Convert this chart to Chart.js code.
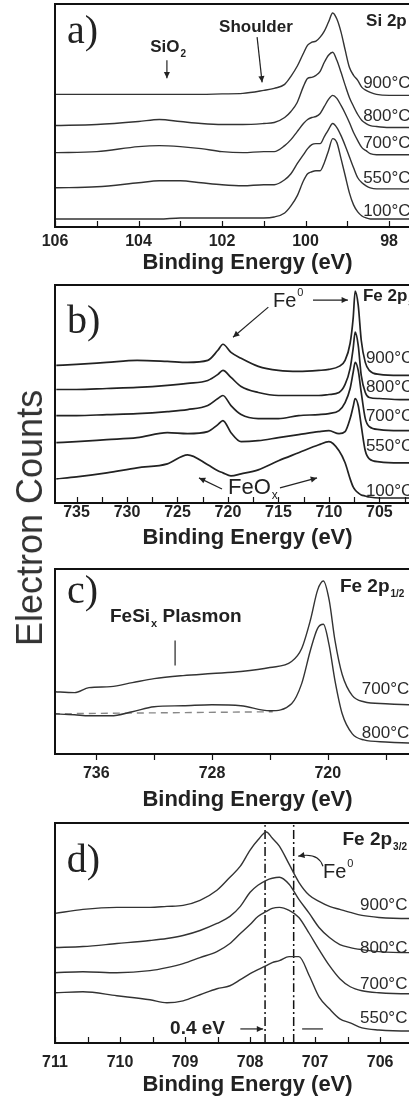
<!DOCTYPE html>
<html>
<head>
<meta charset="utf-8">
<script src="https://cdn.jsdelivr.net/npm/chart.js@4/dist/chart.umd.min.js"></script>
<style>
  html, body { margin: 0; padding: 0; background: #fff; width: 409px; height: 1097px; overflow: hidden; position: relative; }
  .panel { position: absolute; left: 0; width: 450px; }
  #ylab { position: absolute; left: 30px; top: 518px; transform: translate(-50%, -50%) rotate(-90deg);
          white-space: nowrap; font: 36px 'Liberation Sans', Arial, sans-serif; color: #333; }
</style>
</head>
<body>
<div class="panel" style="top:0px;height:274px"><canvas id="ca"></canvas></div>
<div class="panel" style="top:276px;height:273px"><canvas id="cb"></canvas></div>
<div class="panel" style="top:552px;height:259px"><canvas id="cc"></canvas></div>
<div class="panel" style="top:812px;height:284px"><canvas id="cd"></canvas></div>
<div id="ylab">Electron Counts</div>
<script>
const SANS = "'Liberation Sans', Arial, sans-serif";
const SERIF = "'Liberation Serif', 'Times New Roman', serif";

// a) Si 2p  (energy in eV, counts in arbitrary units)
const siEnergy = [106, 105, 104, 103.5, 103, 102.5, 102, 101.5, 101, 100.75, 100.5, 100.35, 100.2, 100.05, 99.95, 99.85, 99.75, 99.65, 99.55, 99.45, 99.35, 99.25, 99.15, 99.05, 98.95, 98.85, 98.75, 98.65, 98.55, 98.45, 98.3, 98.0, 97.5, 96.8];
const si900 = [132,132,132,132,132,132,132.5,133,136,138,142,150,160,173,181,184,185,189,195,204,213,207,194,176,159,151,146,139,136,134,132,131,131,131];
const si800 = [101,102,105,107,105,103,102,102,103,104,109,115,124,140,148,149,151,155,164,171,174,166,154,141,129,120,112,106,103,101,100,99,99,99];
const si700 = [74,75,80,81,80,78,75,74,75,75,81,87,95,103,107,109,110,113,120,127,131,128,121,113,104,94,86,79,76,73,72,72,72,72];
const si550 = [39,40,44,46,46,44,42,41,42,42,47,53,63,72,78,82,83,83,90,97,103,99,91,81,70,59,49,44,41,39,38,38,38,38];
const si100 = [8,8,8,8,9,9,9,9,9,10,14,21,31,46,53,55,56,56,64,76,88,84,68,51,34,22,15,11,9,8,8,8,8,8];
const siTemps = ['900°C', '800°C', '700°C', '550°C', '100°C'];

// b) Fe 2p wide scan
const feEnergy = [737, 735, 732, 729, 726, 724, 722, 721, 720.5, 719.7, 718.7, 717, 715, 713, 711, 710, 709, 708.4, 707.9, 707.6, 707.4, 707.1, 706.8, 706.4, 706, 705, 703, 701, 699];
const fe900 = [137,138,140,142,141,140,142,152,158,150,144,136,132,131,132,133,136,142,159,184,211,197,162,140,132,128,127,127,127];
const fe800 = [113,113,114,115,117,119,122,128,132,125,116,110,107,107,107,108,110,118,134,154,170,157,127,110,105,104,103,103,103];
const fe700 = [87,87,88,89,91,93,97,104,107,97,88,84,84,87,88,89,92,100,114,130,140,132,110,84,76,73,72,72,72];
const fe550 = [60,61,63,65,70,69,71,78,82,70,61,62,65,68,71,72,69,71,84,96,104,97,77,52,44,41,40,40,40];
const fe100 = [24,26,30,35,39,48,38,32,30,27,29,33,42,50,58,61,52,40,24,16,13,10,8,7,6,5,5,5,5];
const feTemps = ['900°C', '800°C', '700°C', '550°C', '100°C'];

// c) Fe 2p1/2
const halfEnergy = [739, 737.5, 736.5, 735, 733.5, 732, 730, 728, 726, 724, 722.5, 721.8, 721.2, 720.7, 720.3, 719.9, 719.5, 719, 718.3, 717.5, 716, 714, 712];
const half700 = [62,61,66,67,71,75,78,80,82,86,92,105,133,163,172,153,113,79,58,52,50,49,49];
const half800 = [40,39,38,38,42,47,48,49,48,43,50,70,103,125,129,108,73,40,20,14,12,11,11];
const bgEnergy = [739, 723.8];
const bgCounts = [40, 42];
const halfTemps = ['700°C', '800°C'];

// d) Fe 2p3/2
const p32Energy = [711, 710.57, 710.05, 709.54, 709.28, 709.03, 708.77, 708.51, 708.31, 708.15, 708.0, 707.88, 707.75, 707.66, 707.55, 707.4, 707.25, 707.09, 706.94, 706.78, 706.62, 706.46, 706.28, 706.02, 705.55, 705.08];
const p32_900 = [129,133,135,135,136,137,142,152,165,176,192,202,210,204,196,178,160,147,141,136,133,130,127,125,124,124];
const p32_800 = [95,96,99,102,104,107,112,119,126,136,150,157,162,164,165,158,143,129,115,105,98,95,93,91,90,90];
const p32_700 = [70,71,70,72,75,79,85,91,99,109,118,126,131,134,135,132,125,109,93,77,64,56,52,50,49,49];
const p32_550 = [50,51,47,43,40,42,48,54,57,63,69,73,77,80,82,86,86,67,46,34,24,20,15,13,12,12];
const refEnergy = [707.77, 707.33];
const p32Temps = ['900°C', '800°C', '700°C', '550°C'];

function xy(xs, ys) { return xs.map((v, i) => ({x: v, y: ys[i]})); }

function arrowHead(ctx, x1, y1, x2, y2, size) {
  const ang = Math.atan2(y2 - y1, x2 - x1);
  ctx.beginPath();
  ctx.moveTo(x2, y2);
  ctx.lineTo(x2 - size * Math.cos(ang - 0.45), y2 - size * Math.sin(ang - 0.45));
  ctx.lineTo(x2 - size * Math.cos(ang + 0.45), y2 - size * Math.sin(ang + 0.45));
  ctx.closePath();
  ctx.fill();
}

const decor = {
  id: 'decor',
  afterDatasetsDraw(chart, args, o) {
    const {ctx, chartArea: a, scales: {x, y}} = chart;
    ctx.save();
    ctx.strokeStyle = '#111';
    ctx.lineWidth = 1.2;
    const start = Math.ceil(x.min / o.minor - 1e-6) * o.minor;
    for (let v = start; v <= x.max + 1e-6; v += o.minor) {
      const px = Math.round(x.getPixelForValue(v)) + 0.5;
      ctx.beginPath();
      ctx.moveTo(px, a.bottom);
      ctx.lineTo(px, a.bottom + o.tickDir * 6);
      ctx.stroke();
    }
    ctx.lineWidth = 2;
    ctx.strokeRect(a.left, a.top, a.right - a.left, a.bottom - a.top);

    ctx.fillStyle = '#222';
    ctx.strokeStyle = '#222';
    ctx.lineWidth = 1.2;
    ctx.textBaseline = 'alphabetic';
    o.notes.forEach(n => {
      const px = x.getPixelForValue(n.x), py = y.getPixelForValue(n.y);
      if (n.t === 'text') {
        ctx.fillStyle = n.color || '#222';
        ctx.font = n.font;
        ctx.fillText(n.s, px, py);
        let w = ctx.measureText(n.s).width;
        if (n.sub || n.sup) {
          const s = n.sub || n.sup;
          ctx.font = n.small;
          ctx.fillText(s, px + w + 1, n.sub ? py + 5 : py - 11);
          w += ctx.measureText(s).width + 1;
        }
        if (n.after) {
          ctx.font = n.font;
          ctx.fillText(n.after, px + w, py);
        }
      } else {
        const x2 = x.getPixelForValue(n.x2), y2 = y.getPixelForValue(n.y2);
        ctx.beginPath();
        ctx.moveTo(px, py);
        if (n.t === 'curve') {
          const cx = x.getPixelForValue(n.cx), cy = y.getPixelForValue(n.cy);
          ctx.quadraticCurveTo(cx, cy, x2, y2);
          ctx.stroke();
          arrowHead(ctx, cx, cy, px, py, 7);
        } else {
          ctx.lineTo(x2, y2);
          ctx.stroke();
          if (n.t === 'arrow') arrowHead(ctx, px, py, x2, y2, 7);
        }
      }
    });
    ctx.restore();
  }
};

function temps(labels, ex, ys) {
  return labels.map((s, i) => ({t: 'text', x: ex, y: ys[i], s: s, font: '17px ' + SANS, color: '#2a2a2a'}));
}

function panel(id, p) {
  const sets = p.series.map(s => ({
    data: xy(s.x, s.y),
    borderColor: s.color || '#333',
    borderWidth: s.width || 1.4,
    borderDash: s.dash || [],
    pointRadius: 0,
    cubicInterpolationMode: 'monotone',
    fill: false
  }));
  new Chart(document.getElementById(id), {
    type: 'line',
    data: {datasets: sets},
    options: {
      responsive: true,
      maintainAspectRatio: false,
      animation: false,
      events: [],
      layout: {padding: {left: 55, right: 10, top: p.padTop, bottom: 0}},
      plugins: {legend: {display: false}, tooltip: {enabled: false},
        decor: {minor: p.minor, tickDir: p.tickDir, notes: p.notes}},
      scales: {
        x: {
          type: 'linear', reverse: true, min: p.min, max: p.max,
          border: {display: false},
          grid: {display: false, drawTicks: false},
          ticks: {stepSize: p.step, includeBounds: false, autoSkip: false, maxRotation: 0,
                  padding: p.tickPad, color: '#222',
                  font: {family: SANS, size: 16, weight: 'bold', lineHeight: 1}},
          title: {display: true, text: 'Binding Energy (eV)', color: '#222', padding: 0,
                  font: {family: SANS, size: 22, weight: 'bold', lineHeight: 1}},
          afterFit: s => { s.height = p.axisH; }
        },
        y: {display: false, min: 0, max: p.ymax}
      }
    },
    plugins: [decor]
  });
}

panel('ca', {
  min: 96.78, max: 106, step: 2, minor: 1, tickDir: -1, padTop: 4, tickPad: 7, axisH: 47, ymax: 222,
  series: [si900, si800, si700, si550, si100].map(s => ({x: siEnergy, y: s})),
  notes: [
    {t: 'text', x: 105.71, y: 183, s: 'a)', font: '40px ' + SERIF},
    {t: 'text', x: 103.72, y: 174, s: 'SiO', sub: '2', font: 'bold 17px ' + SANS, small: 'bold 10px ' + SANS},
    {t: 'arrow', x: 103.32, y: 166, x2: 103.32, y2: 148},
    {t: 'text', x: 102.07, y: 194, s: 'Shoulder', font: 'bold 17px ' + SANS},
    {t: 'arrow', x: 101.16, y: 189, x2: 101.04, y2: 144},
    {t: 'text', x: 98.55, y: 200, s: 'Si 2p', font: 'bold 17px ' + SANS}
  ].concat(temps(siTemps, 98.62, [138, 106, 79, 44, 11]))
});

panel('cb', {
  min: 699, max: 737.13, step: 5, minor: 2.5, tickDir: -1, padTop: 9, tickPad: 2, axisH: 46, ymax: 217,
  series: [fe900, fe800, fe700, fe550, fe100].map(s => ({x: feEnergy, y: s, color: '#222', width: 1.7})),
  notes: [
    {t: 'text', x: 735.94, y: 169, s: 'b)', font: '40px ' + SERIF},
    {t: 'text', x: 715.54, y: 195, s: 'Fe', sup: '0', font: '20px ' + SANS, small: '11px ' + SANS},
    {t: 'arrow', x: 716.0, y: 195, x2: 719.5, y2: 165},
    {t: 'arrow', x: 711.58, y: 202, x2: 708.12, y2: 202},
    {t: 'text', x: 706.63, y: 201, s: 'Fe 2p', sub: '3/2', font: 'bold 17px ' + SANS, small: 'bold 9px ' + SANS},
    {t: 'text', x: 720.0, y: 9, s: 'FeO', sub: 'x', font: '22px ' + SANS, small: '12px ' + SANS},
    {t: 'arrow', x: 720.59, y: 14, x2: 722.87, y2: 25},
    {t: 'arrow', x: 714.85, y: 15, x2: 711.18, y2: 25}
  ].concat(temps(feTemps, 706.34, [139, 110, 82, 52, 7]))
});

panel('cc', {
  min: 712.24, max: 738.85, step: 8, minor: 4, tickDir: 1, padTop: 17, tickPad: 12, axisH: 57, ymax: 184,
  series: [
    {x: halfEnergy, y: half700},
    {x: halfEnergy, y: half800},
    {x: bgEnergy, y: bgCounts, color: '#888', dash: [7, 5], width: 1.4}
  ],
  notes: [
    {t: 'text', x: 738.02, y: 150, s: 'c)', font: '40px ' + SERIF},
    {t: 'text', x: 735.05, y: 131, s: 'FeSi', sub: 'x', after: ' Plasmon', font: 'bold 19px ' + SANS, small: 'bold 11px ' + SANS},
    {t: 'line', x: 730.55, y: 113, x2: 730.55, y2: 88},
    {t: 'text', x: 719.16, y: 161, s: 'Fe 2p', sub: '1/2', font: 'bold 19px ' + SANS, small: 'bold 10px ' + SANS}
  ].concat(temps(halfTemps, 717.64, [60, 16]))
});

panel('cd', {
  min: 705.08, max: 711, step: 1, minor: 0.5, tickDir: -1, padTop: 11, tickPad: 12, axisH: 53, ymax: 219,
  series: [p32_900, p32_800, p32_700, p32_550].map(s => ({x: p32Energy, y: s}))
    .concat(refEnergy.map(e => ({x: [e, e], y: [0, 219], color: '#111', dash: [9, 3, 2, 3], width: 1.5}))),
  notes: [
    {t: 'text', x: 710.82, y: 170, s: 'd)', font: '40px ' + SERIF},
    {t: 'text', x: 706.58, y: 197, s: 'Fe 2p', sub: '3/2', font: 'bold 19px ' + SANS, small: 'bold 10px ' + SANS},
    {t: 'text', x: 706.88, y: 164, s: 'Fe', sup: '0', font: '20px ' + SANS, small: '11px ' + SANS},
    {t: 'curve', x: 707.26, y: 186, cx: 706.95, cy: 190, x2: 706.88, y2: 176},
    {t: 'text', x: 709.23, y: 9, s: '0.4 eV', font: 'bold 19px ' + SANS},
    {t: 'arrow', x: 708.15, y: 14, x2: 707.8, y2: 14},
    {t: 'line', x: 707.2, y: 14, x2: 706.88, y2: 14}
  ].concat(temps(p32Temps, 706.31, [132, 90, 54, 20]))
});
</script>
</body>
</html>
